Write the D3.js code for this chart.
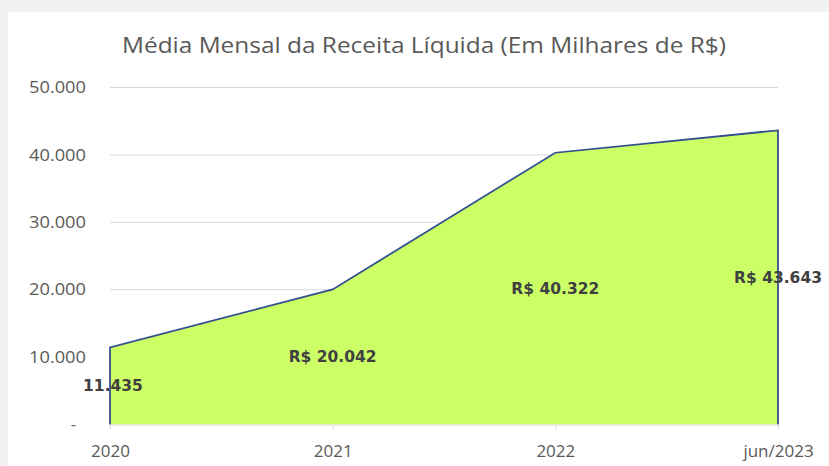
<!DOCTYPE html>
<html>
<head>
<meta charset="utf-8">
<script src="https://cdn.jsdelivr.net/npm/d3@7"></script>
<style>
  body { margin: 0; background: #f2f2f2; }
  svg { display: block; }
</style>
</head>
<body>
<svg id="chart" width="829" height="466"></svg>
<script>
// data
const categories = ["2020", "2021", "2022", "jun/2023"];
const values = [11435, 20042, 40322, 43643];
const labels = ["11.435", "R$ 20.042", "R$ 40.322", "R$ 43.643"];
const yTicks = [0, 10000, 20000, 30000, 40000, 50000];

const width = 829, height = 466;
const svg = d3.select("#chart");

// card background
svg.append("rect").attr("x", 0).attr("y", 0).attr("width", width).attr("height", height).attr("fill", "#f1f1f1");
svg.append("rect").attr("x", 8).attr("y", 12).attr("width", width - 8).attr("height", height - 12).attr("fill", "#ffffff");

const x = d3.scalePoint()
    .domain(categories)
    .range([110, 778]);

const y = d3.scaleLinear()
    .domain([0, 50000])
    .range([424.5, 87.5]);

const fmt = d => d === 0 ? "-" : d3.format(",")(d).replace(/,/g, ".");

// gridlines
svg.append("g")
    .selectAll("line")
    .data(yTicks.filter(d => d > 0))
    .enter()
    .append("line")
    .attr("x1", x.range()[0])
    .attr("x2", x.range()[1])
    .attr("y1", d => y(d))
    .attr("y2", d => y(d))
    .attr("stroke", "#d9d9d9")
    .attr("stroke-width", 1);

// y labels
svg.append("g")
    .selectAll("text")
    .data(yTicks)
    .enter()
    .append("text")
    .attr("x", d => d === 0 ? 76 : 86)
    .attr("y", d => y(d))
    .attr("dy", "0.35em")
    .attr("text-anchor", "end")
    .attr("font-family", "Open Sans, sans-serif")
    .attr("font-size", "16.5px")
    .attr("textLength", d => d === 0 ? null : 57)
    .attr("lengthAdjust", "spacingAndGlyphs")
    .attr("fill", "#595959")
    .text(fmt);

const points = categories.map((c, i) => ({ cat: c, value: values[i], label: labels[i] }));

// area
const area = d3.area()
    .x(d => x(d.cat))
    .y0(y(0))
    .y1(d => y(d.value));

svg.append("path")
    .datum(points)
    .attr("d", area)
    .attr("fill", "#ccff66");

// outline (left edge, top line, right edge)
const outline = [{ cat: categories[0], value: 0 }, ...points, { cat: categories[categories.length - 1], value: 0 }];
svg.append("path")
    .datum(outline)
    .attr("d", d3.line().x(d => x(d.cat)).y(d => y(d.value)))
    .attr("fill", "none")
    .attr("stroke", "#2f4f8f")
    .attr("stroke-width", 1.75);

// x axis
const xAxis = svg.append("g")
    .attr("transform", `translate(0, ${y(0)})`)
    .call(d3.axisBottom(x).tickSize(5).tickSizeOuter(0).tickPadding(15));
xAxis.select(".domain").attr("stroke", "#d9d9d9");
xAxis.selectAll(".tick line").attr("stroke", "#d9d9d9");
xAxis.selectAll(".tick text")
    .attr("font-family", "Open Sans, sans-serif")
    .attr("font-size", "17px")
    .attr("fill", "#595959");

// data labels, centered at half height
svg.append("g")
    .selectAll("text")
    .data(points)
    .enter()
    .append("text")
    .attr("x", d => x(d.cat) + (d.cat === "2020" ? 3 : 0))
    .attr("y", d => y(d.value / 2))
    .attr("dy", "0.35em")
    .attr("text-anchor", "middle")
    .attr("font-family", "DejaVu Sans, sans-serif")
    .attr("font-weight", "bold")
    .attr("font-size", "15.5px")
    .attr("fill", "#404040")
    .text(d => d.label);

// title
svg.append("text")
    .attr("x", 424)
    .attr("y", 53)
    .attr("text-anchor", "middle")
    .attr("font-family", "Open Sans, sans-serif")
    .attr("font-size", "21px")
    .attr("textLength", 604)
    .attr("lengthAdjust", "spacingAndGlyphs")
    .attr("fill", "#595959")
    .text("Média Mensal da Receita Líquida (Em Milhares de R$)");
</script>
</body>
</html>
